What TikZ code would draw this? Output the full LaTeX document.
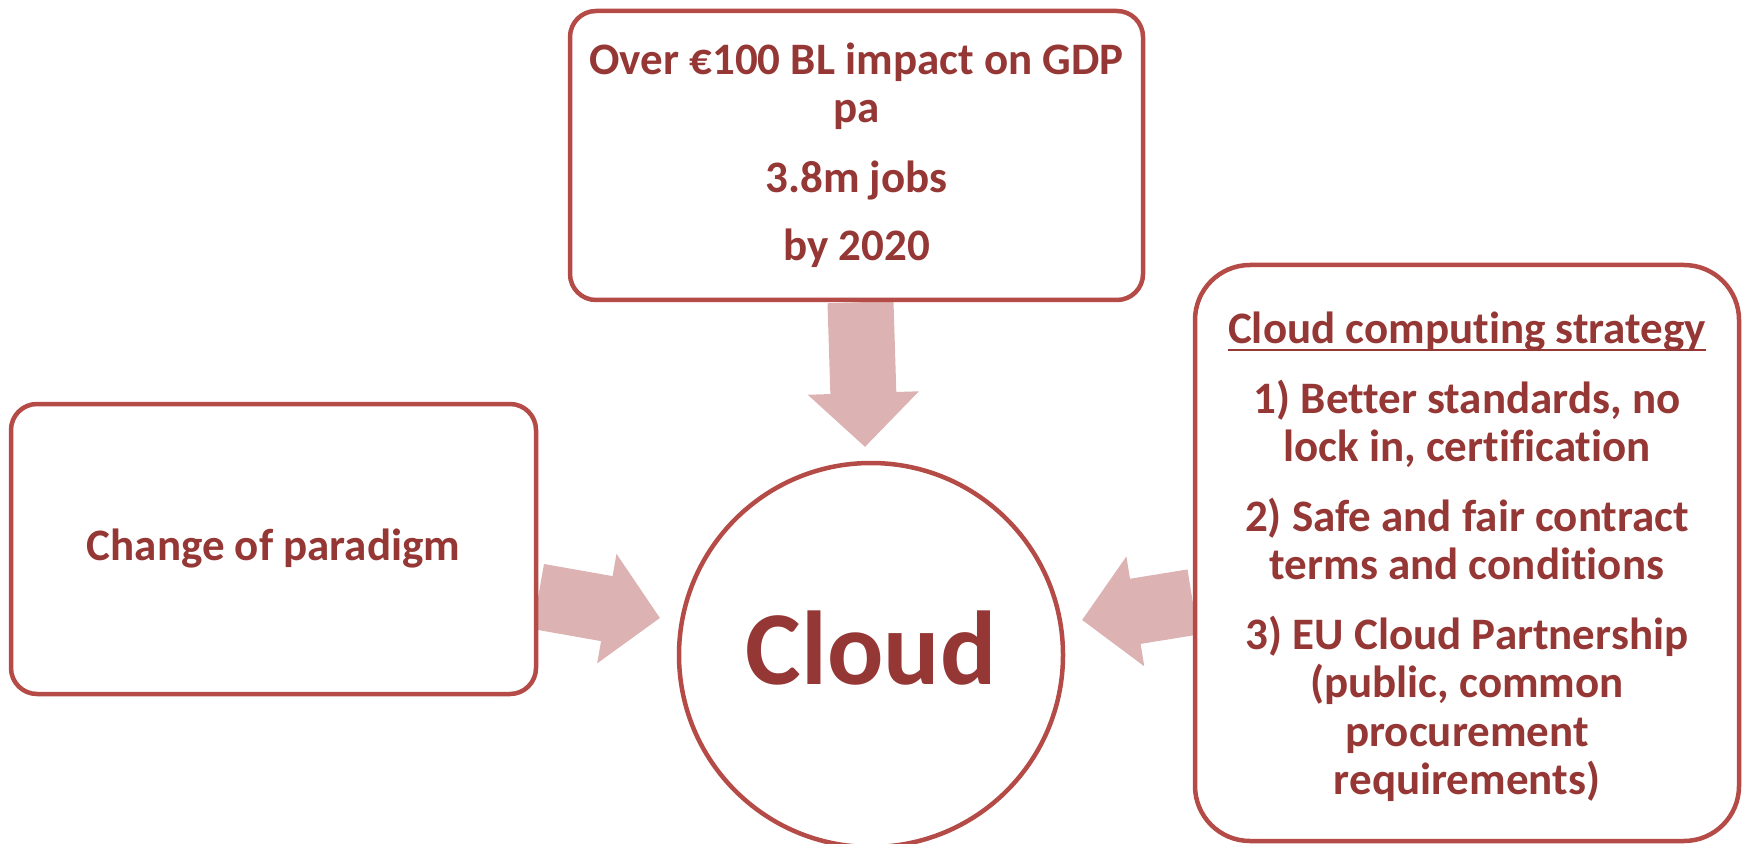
\documentclass[tikz,border=0pt]{standalone}
\usepackage{fontspec}
\setmainfont{Carlito}[Ligatures=NoCommon]
\usetikzlibrary{arrows.meta,backgrounds}
\definecolor{txtred}{RGB}{149,55,53}
\definecolor{edgered}{RGB}{180,75,71}
\definecolor{arrpink}{RGB}{220,178,178}
\newcommand\myul[1]{\setbox0\hbox{#1}\rlap{\rule[-3.5pt]{\wd0}{1pt}}\box0}
\begin{document}
\begin{tikzpicture}[x=0.5pt,y=-0.5pt,
  box/.style={draw=edgered, line width=2.25pt, fill=white, align=center, text=txtred,
    font=\bfseries\fontsize{22.5}{24.25}\selectfont, inner sep=0pt},
  blockarrow/.style={draw=arrpink, line width=33pt, -{Triangle[length=27pt,width=54pt]}}]
\useasboundingbox (0,0) rectangle (1748,844);
\node[box, rounded corners=13pt, minimum width=286.5pt, minimum height=144.5pt] (top) at (856.5,155.5)
  {Over €100 BL impact on GDP\\pa\\[10.5pt]3.8m jobs\\[10pt]by 2020};
\node[box, rounded corners=13pt, minimum width=262.5pt, minimum height=145pt] (left) at (273.5,549)
  {Change of paradigm};
\node[box, rounded corners=27.5pt, minimum width=272pt, minimum height=288pt] (right) at (1467,553)
  {\rule{0pt}{20pt}\myul{Cloud computing strategy}\\[10.5pt]1) Better standards, no\\lock in, certification\\[10.5pt]2) Safe and fair contract\\terms and conditions\\[10.5pt]3) EU Cloud Partnership\\(public, common\\procurement\\requirements)};
\node[draw=edgered, line width=2.25pt, fill=white, circle, minimum size=192pt, inner sep=0pt,
  text=txtred, font=\bfseries\fontsize{52.5}{60}\selectfont, text depth=7pt] (cloud) at (871,655) {Cloud};
\coordinate (t1) at (865,447);
\coordinate (t2) at (660,618);
\coordinate (t3) at (1082,620);
\begin{scope}[on background layer]
\draw[blockarrow] ([xshift=2pt]top.south) -- (t1);
\draw[blockarrow] ([yshift=-23.75pt]left.east) -- (t2);
\draw[blockarrow] ([yshift=-24.5pt]right.west) -- (t3);
\end{scope}
\end{tikzpicture}
\end{document}
